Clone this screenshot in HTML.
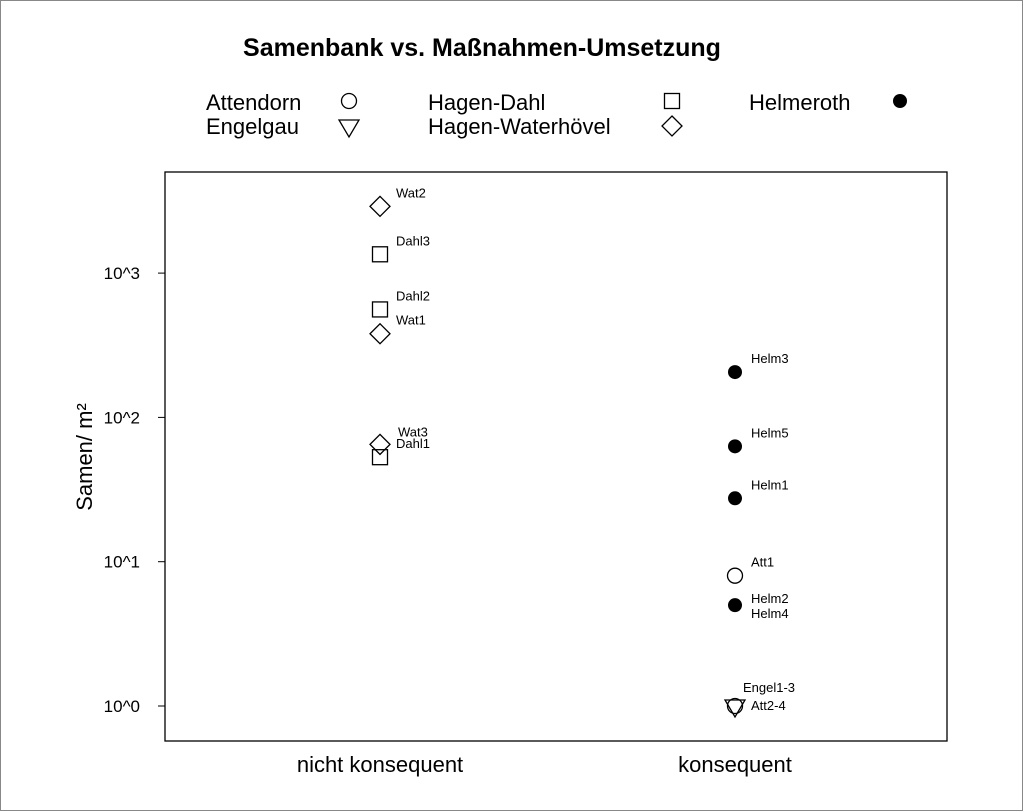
<!DOCTYPE html>
<html><head><meta charset="utf-8"><style>
body{margin:0;background:#fff}
svg{display:block;font-family:"Liberation Sans",Arial,sans-serif}
</style></head><body>
<svg id="chart" width="1024" height="812">
<rect x="0.5" y="0.5" width="1022" height="810" fill="#fff" stroke="#888"/>
<text x="482" y="56" font-size="25" font-weight="bold" text-anchor="middle">Samenbank vs. Maßnahmen-Umsetzung</text>
<g id="legend" font-size="22"></g>
<rect x="165" y="172" width="782" height="569" fill="none" stroke="#000" stroke-width="1.3"/>
<g id="yaxis"></g>
<g id="xaxis"></g>
<text transform="translate(92,457) rotate(-90)" font-size="22" text-anchor="middle">Samen/ m²</text>
<g id="points"></g>
</svg>
<script>
const categories=["nicht konsequent","konsequent"];
const yTickExps=[0,1,2,3];
const pointLabels=["Wat2","Dahl3","Dahl2","Wat1","Wat3","Dahl1","Helm3","Helm5","Helm1","Att1","Helm2\nHelm4","Engel1-3","Att2-4"];
const pointValues=[2900,1350,560,380,65,53,206,63,27.5,8,5,1,1];
const pointGroups=[0,0,0,0,0,0,1,1,1,1,1,1,1];
const pointShapes=["diamond","square","square","diamond","diamond","square","filled","filled","filled","circle","filled","triangle","circle"];
const legendNames=["Attendorn","Engelgau","Hagen-Dahl","Hagen-Waterhövel","Helmeroth"];
const legendShapes=["circle","triangle","square","diamond","filled"];
const NS="http://www.w3.org/2000/svg";
const svg=document.getElementById('chart');
function xScale(i){return 380+i*355;}
function yScale(v){return 706-Math.log10(v)*144.3;}
function el(tag,attrs,parent){const e=document.createElementNS(NS,tag);for(const k in attrs)e.setAttribute(k,attrs[k]);parent.appendChild(e);return e;}
function marker(shape,cx,cy,parent){
 let e;
 if(shape==="circle")e=el('circle',{cx:cx,cy:cy,r:7.5,fill:'none',stroke:'#000','stroke-width':1.3},parent);
 else if(shape==="filled")e=el('circle',{cx:cx,cy:cy,r:7,fill:'#000'},parent);
 else if(shape==="square")e=el('rect',{x:cx-7.5,y:cy-7.5,width:15,height:15,fill:'none',stroke:'#000','stroke-width':1.3},parent);
 else if(shape==="diamond")e=el('polygon',{points:`${cx},${cy-10} ${cx+10},${cy} ${cx},${cy+10} ${cx-10},${cy}`,fill:'none',stroke:'#000','stroke-width':1.3},parent);
 else e=el('polygon',{points:`${cx-10},${cy-6} ${cx+10},${cy-6} ${cx},${cy+11}`,fill:'none',stroke:'#000','stroke-width':1.3},parent);
 return e;
}
// legend
const lg=document.getElementById('legend');
const legPos=[[206,110,349,101],[206,134,349,126],[428,110,672,101],[428,134,672,126],[749,110,900,101]];
legendNames.forEach((n,i)=>{
 const g=el('g',{},lg);
 
 
 const t=el('text',{x:legPos[i][0],y:legPos[i][1]},g);t.textContent=n;
 marker(legendShapes[i],legPos[i][2],legPos[i][3],g);
});
// y axis
const ya=document.getElementById('yaxis');
yTickExps.forEach(p=>{
 const y=yScale(Math.pow(10,p));
 const l=el('line',{x1:158,x2:165,y1:y,y2:y,stroke:'#000'},ya);
 
 
 const t=el('text',{x:140,y:y+6,'font-size':17,'text-anchor':'end'},ya);
 
 
 t.textContent='10^'+p;
});
// x axis
const xa=document.getElementById('xaxis');
categories.forEach((c,i)=>{
 const t=el('text',{x:xScale(i),y:772,'font-size':22,'text-anchor':'middle'},xa);
 
 
 t.textContent=c;
});
// points
const pg=document.getElementById('points');
const labelOffsets={"Dahl1":[16,-9],"Wat3":[18,-8],"Engel1-3":[8,-14],"Att2-4":[16,4]};
pointValues.forEach((v,i)=>{
 const cx=xScale(pointGroups[i]),cy=yScale(v);
 const m=marker(pointShapes[i],cx,cy,pg);
 
 
 const off=labelOffsets[pointLabels[i]]||[16,-9];
 const lines=pointLabels[i].split('\n');
 const baseY=lines.length>1?cy-2:cy+off[1];
 lines.forEach((ln,j)=>{
  const t=el('text',{x:cx+off[0],y:baseY+j*15,'font-size':13},pg);
  
  
  t.textContent=ln;
 });
});
</script>
</body></html>
